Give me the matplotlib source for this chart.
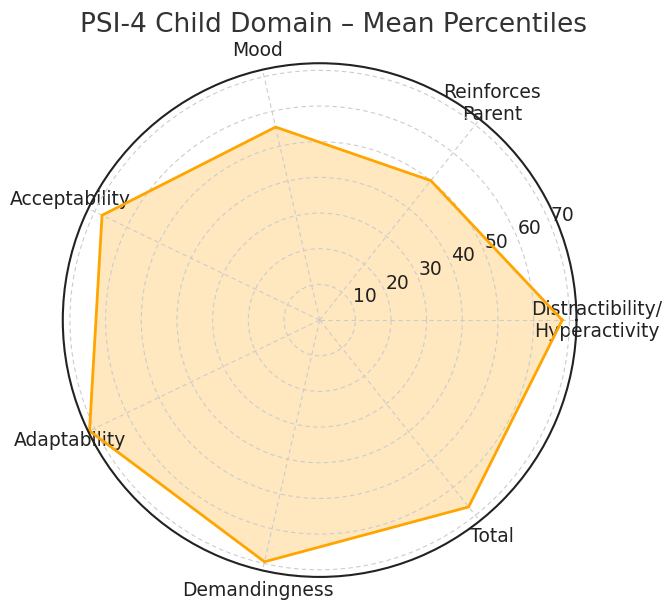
import matplotlib
matplotlib.use("Agg")
import matplotlib.pyplot as plt
import numpy as np

# PSI-4 child domain mean percentiles
categories = ["Distractibility/\nHyperactivity", "Reinforces\nParent", "Mood",
              "Acceptability", "Adaptability", "Demandingness", "Total"]
values = [68, 50, 55.5, 67.7, 71.6, 69.5, 67]
rticks = [10, 20, 30, 40, 50, 60, 70]

n = len(categories)
angles = np.linspace(0, 2*np.pi, n, endpoint=False).tolist()
vals = values + values[:1]
angs = angles + angles[:1]

fig = plt.figure(figsize=(6.68, 6.12), dpi=100)
ax = fig.add_axes([0.094, 0.057, 0.769, 0.840], polar=True)

ax.plot(angs, vals, color="orange", linewidth=2)
ax.fill(angs, vals, color="orange", alpha=0.25)

ax.set_xticks(angles)
ax.set_xticklabels(categories, fontsize=13.5, color="#222222")
ax.tick_params(axis="x", pad=4)
ax.set_yticks(rticks)
ax.set_yticklabels([str(t) for t in rticks], fontsize=13.5, color="#222222")
ax.set_rlabel_position(22.5)
ax.set_ylim(0, 72)
ax.grid(True, linestyle=(0, (4, 3)), color="#cccccc", linewidth=0.8)
ax.spines["polar"].set_color("#222222")
ax.spines["polar"].set_linewidth(1.5)

fig.suptitle("PSI-4 Child Domain – Mean Percentiles", fontsize=19, color="#333333", y=0.981)

fig.savefig("out.png", dpi=100)
